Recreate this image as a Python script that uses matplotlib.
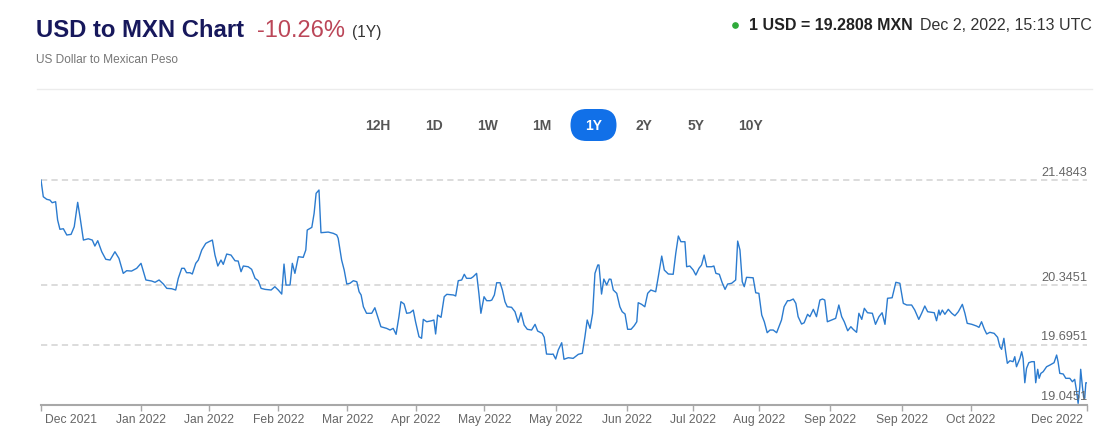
import matplotlib
matplotlib.use("Agg")
import matplotlib.pyplot as plt
from matplotlib.patches import FancyBboxPatch
from matplotlib import transforms

plt.rcParams['font.family'] = ['Liberation Sans', 'DejaVu Sans']
plt.rcParams['lines.scale_dashes'] = False

# --- data: day offset from 2 Dec 2021, USD/MXN rate ---
days_dec_jan = [0, 0.8, 2.0, 3.1, 3.9, 5.1, 5.8, 6.6, 7.8, 9.0, 10.5, 11.6, 12.8, 13.6,
                14.8, 16.5, 17.9, 18.8, 19.8, 21.2, 22.6, 24.1, 25.8, 27.2, 28.7, 29.9,
                31.6, 33.4, 34.9, 36.6, 38.6, 39.8, 41.2, 42.7, 43.9, 45.6, 47.0, 47.9,
                49.1, 50.0, 50.8, 52.0]
rate_dec_jan = [21.486, 21.305, 21.277, 21.269, 21.240, 21.251, 21.052, 20.951, 20.957,
                20.889, 20.896, 20.979, 21.244, 21.088, 20.834, 20.848, 20.834, 20.769,
                20.827, 20.707, 20.625, 20.617, 20.707, 20.635, 20.472, 20.501, 20.497,
                20.527, 20.581, 20.400, 20.389, 20.375, 20.400, 20.356, 20.309, 20.305,
                20.291, 20.418, 20.527, 20.527, 20.479, 20.479]

days_jan_mar = [52.8, 54.0, 54.9, 56.1, 57.5, 58.6, 59.8, 60.7, 61.7, 62.8, 63.6, 64.8,
                66.3, 67.7, 68.8, 69.8, 70.6, 72.3, 73.5, 74.7, 75.8, 76.8, 78.2, 80.3,
                81.6, 82.8, 84.0, 84.8, 85.5, 86.9, 87.7, 88.6, 89.8, 91.5, 92.4, 92.9,
                94.5, 95.3, 96.0, 97.0, 97.7, 100.2, 102.0, 103.2]
rate_jan_mar = [20.465, 20.581, 20.617, 20.726, 20.798, 20.816, 20.834, 20.671, 20.552,
                20.617, 20.570, 20.682, 20.671, 20.609, 20.606, 20.490, 20.552, 20.544,
                20.516, 20.418, 20.392, 20.309, 20.298, 20.291, 20.327, 20.291, 20.247,
                20.573, 20.345, 20.345, 20.581, 20.472, 20.653, 20.646, 20.726, 20.943,
                20.972, 21.124, 21.342, 21.378, 20.914, 20.921, 20.907, 20.889]

days_mar_may = [103.7, 104.9, 105.8, 106.7, 107.8, 109.0, 110.2, 111.0, 111.7, 112.5,
                113.6, 115.4, 116.5, 117.5, 118.6, 120.6, 121.8, 122.9, 123.9, 124.9,
                125.6, 126.7, 127.6, 128.8, 129.9, 130.7, 131.9, 132.8, 133.4, 134.6,
                136.3, 137.1, 137.7, 138.4, 139.6, 140.7, 141.6, 143.9, 144.7, 145.6,
                146.8, 147.7, 148.5, 150.0, 150.8, 152.0, 152.8, 153.5, 154.6, 155.5, 156.7]
rate_mar_may = [20.853, 20.617, 20.508, 20.356, 20.364, 20.392, 20.381, 20.272, 20.237,
                20.109, 20.038, 20.038, 20.098, 20.001, 19.892, 19.874, 19.856, 19.874,
                19.809, 20.001, 20.164, 20.139, 20.038, 20.044, 20.073, 19.946, 19.783,
                19.766, 19.972, 19.946, 19.957, 19.965, 19.813, 20.019, 19.994, 20.218,
                20.244, 20.237, 20.226, 20.392, 20.400, 20.462, 20.418, 20.418, 20.435,
                20.472, 20.255, 20.038, 20.218, 20.175, 20.175]

days_may_jun = [157.3, 158.2, 159.0, 160.2, 161.0, 161.9, 162.7, 164.2, 165.4, 166.5,
                167.5, 168.6, 169.7, 171.2, 172.4, 173.3, 174.9, 175.6, 176.4, 178.2,
                178.7, 179.6, 180.5, 181.7, 182.5, 184.0, 185.7, 187.5, 188.9, 189.8,
                190.6, 191.6, 192.5, 193.3, 194.3, 194.7, 195.6, 196.4, 197.4, 198.3,
                198.9, 199.7, 200.9, 202.0, 202.8, 203.8, 204.7, 205.9, 207.0, 207.9]
rate_may_jun = [20.182, 20.237, 20.370, 20.370, 20.291, 20.164, 20.109, 20.103, 20.055,
                19.940, 20.044, 19.910, 19.864, 19.856, 19.918, 19.845, 19.820, 19.777,
                19.595, 19.592, 19.595, 19.541, 19.639, 19.718, 19.538, 19.555, 19.548,
                19.592, 19.603, 19.783, 19.965, 19.874, 20.038, 20.472, 20.563, 20.563,
                20.247, 20.410, 20.345, 20.410, 20.407, 20.291, 20.255, 20.109, 20.055,
                20.030, 19.864, 19.864, 19.903, 19.946]

days_jun_aug = [208.4, 209.6, 210.7, 211.7, 212.8, 214.5, 215.4, 216.6, 217.5, 218.9,
                220.6, 221.5, 222.4, 223.3, 224.7, 225.3, 226.4, 227.6, 228.5, 229.6,
                230.5, 231.4, 232.3, 234.0, 234.8, 235.5, 236.7, 237.7, 238.7, 239.6,
                241.0, 242.4, 243.1, 243.9, 244.7, 245.4, 246.2, 248.5, 249.4, 250.5,
                251.5, 252.4, 253.4, 254.4, 255.5, 256.7, 258.4, 259.3, 260.5, 261.3]
rate_jun_aug = [20.153, 20.135, 20.109, 20.255, 20.291, 20.272, 20.435, 20.660, 20.508,
                20.465, 20.462, 20.690, 20.878, 20.816, 20.816, 20.544, 20.552, 20.508,
                20.454, 20.527, 20.563, 20.671, 20.544, 20.544, 20.552, 20.472, 20.462,
                20.370, 20.298, 20.356, 20.364, 20.400, 20.823, 20.726, 20.381, 20.327,
                20.429, 20.424, 20.261, 20.255, 20.019, 19.946, 19.827, 19.856, 19.856,
                19.827, 19.965, 20.109, 20.175, 20.175]

days_aug_oct = [262.5, 263.4, 264.2, 265.4, 266.3, 267.5, 268.3, 269.5, 270.6, 271.8,
                272.7, 273.5, 274.4, 275.9, 277.3, 278.4, 279.4, 280.3, 281.5, 282.6,
                283.4, 284.6, 285.4, 286.4, 287.3, 288.4, 290.1, 291.2, 292.4, 293.5,
                294.5, 295.4, 297.0, 298.3, 299.7, 300.9, 302.1, 303.8, 304.9, 306.3,
                307.3, 308.4, 309.4, 310.8, 311.7, 312.5, 313.3]
rate_aug_oct = [20.193, 20.146, 20.001, 19.921, 19.935, 20.027, 20.001, 20.081, 20.001,
                20.182, 20.193, 20.182, 19.946, 19.965, 19.983, 20.128, 20.001, 19.946,
                19.848, 19.892, 19.864, 19.831, 20.038, 19.972, 20.092, 20.044, 20.038,
                19.918, 20.001, 20.044, 19.918, 20.201, 20.207, 20.375, 20.364, 20.146,
                20.128, 20.128, 20.073, 19.972, 20.038, 20.117, 20.055, 20.048, 20.044,
                19.957, 20.073]

days_oct_dec = [313.7, 314.5, 315.4, 316.6, 317.8, 318.9, 320.1, 321.5, 322.4, 323.2,
                324.8, 326.5, 327.3, 328.2, 329.2, 330.0, 331.1, 332.6, 333.8, 334.6,
                335.2, 336.0, 336.6, 337.2, 338.1, 339.2, 339.8, 340.4, 341.6, 342.2,
                342.7, 343.3, 343.9, 344.7, 345.7, 346.6, 347.1, 347.8, 348.3, 348.9,
                349.7, 350.9, 352.1, 353.5, 354.4, 354.9, 355.5, 356.7, 357.6, 359.0,
                359.9, 360.7, 361.3, 361.9, 362.5, 362.8, 363.4, 363.8, 364.2, 364.6, 365.0]
rate_oct_dec = [20.019, 20.073, 20.027, 20.081, 20.038, 20.011, 20.055, 20.135, 20.038,
                19.929, 19.918, 19.899, 19.885, 19.946, 19.864, 19.813, 19.831, 19.820,
                19.777, 19.675, 19.646, 19.766, 19.620, 19.494, 19.522, 19.512, 19.566,
                19.457, 19.548, 19.620, 19.548, 19.283, 19.440, 19.501, 19.512, 19.512,
                19.283, 19.429, 19.331, 19.385, 19.403, 19.457, 19.476, 19.501, 19.584,
                19.512, 19.385, 19.378, 19.331, 19.331, 19.294, 19.320, 19.204, 19.059,
                19.240, 19.429, 19.240, 19.131, 19.114, 19.283, 19.281]

days = (days_dec_jan + days_jan_mar + days_mar_may + days_may_jun
        + days_jun_aug + days_aug_oct + days_oct_dec)
rates = (rate_dec_jan + rate_jan_mar + rate_mar_may + rate_may_jun
         + rate_jun_aug + rate_aug_oct + rate_oct_dec)

tick_days = [0, 34.9, 58.7, 82.8, 106.9, 130.7, 154.7, 179.6, 204.5, 227.5,
             250.5, 275.4, 300.4, 324.4, 365]
tick_labels = ["Dec 2021", "Jan 2022", "Jan 2022", "Feb 2022", "Mar 2022", "Apr 2022",
               "May 2022", "May 2022", "Jun 2022", "Jul 2022", "Aug 2022", "Sep 2022",
               "Sep 2022", "Oct 2022", "Dec 2022"]
levels = [21.4843, 20.3451, 19.6951, 19.0451]
periods = ["12H", "1D", "1W", "1M", "1Y", "2Y", "5Y", "10Y"]
active_period = "1Y"

W, H = 1105, 443
fig = plt.figure(figsize=(W / 100, H / 100), dpi=100)

# --- chart ---
ax = fig.add_axes([41 / W, (H - 405) / H, 1046 / W, 240 / H])
ax.plot(days, rates, color='#2b7bcf', lw=1.0, zorder=3)
ax.set_xlim(0, 365)
ax.set_ylim(19.041, 21.65)
ax.set_yticks(levels)
ax.yaxis.grid(True, color='#d9d9d9', lw=1.3, ls=(0, (4.5, 3)))
ax.tick_params(axis='y', left=False, labelleft=False)
for s in ['top', 'right', 'left']:
    ax.spines[s].set_visible(False)
ax.spines['bottom'].set_color('#a8a8a8')
ax.spines['bottom'].set_linewidth(1.5)
ax.set_xticks(tick_days, tick_labels)
ax.tick_params(axis='x', length=4.5, width=1, color='#a8a8a8',
               labelcolor='#666666', labelsize=8.7, pad=2)
xl = ax.get_xticklabels()
xl[0].set_ha('left')
xl[0].set_transform(xl[0].get_transform()
                    + transforms.ScaledTranslation(4 / 100, 0, fig.dpi_scale_trans))
xl[-1].set_ha('right')
xl[-1].set_transform(xl[-1].get_transform()
                     + transforms.ScaledTranslation(-4 / 100, 0, fig.dpi_scale_trans))

off = transforms.offset_copy(ax.get_yaxis_transform(), fig=fig, x=0, y=7.5, units='dots')
for v in levels:
    ax.text(1.0, v, f"{v:.4f}", transform=off, ha='right', va='center',
            fontsize=9.2, color='#666666')

# --- header ---
hdr = fig.add_axes([0, 0, 1, 1])
hdr.set_xlim(0, W)
hdr.set_ylim(H, 0)
hdr.axis('off')

hdr.text(36.5, 36.5, "USD to MXN Chart", fontsize=17.2, fontweight='bold',
         color='#17185c', va='baseline')
hdr.text(257.5, 36.5, "-10.26%", fontsize=17, color='#bb4658', va='baseline')
hdr.text(352, 36.5, "(1Y)", fontsize=11.2, color='#333333', va='baseline')
hdr.text(36.5, 60, "US Dollar to Mexican Peso", fontsize=8.6, color='#777777', va='center')
hdr.plot([36.5, 1091.5], [89, 89], color='#ececec', lw=1)

hdr.plot(735, 25, 'o', ms=3.8, color='#2eaa3a')
hdr.text(749, 25, "1 USD = 19.2808 MXN", fontsize=11.5, fontweight='bold',
         color='#222222', va='center')
hdr.text(1091.5, 25, "Dec 2, 2022, 15:13 UTC", fontsize=11.5, color='#333333',
         ha='right', va='center')

button_x = [378, 433.5, 487.5, 542, 593.5, 644, 696, 750.5]
for bx, p in zip(button_x, periods):
    if p == active_period:
        hdr.add_patch(FancyBboxPatch((bx - 23, 109), 46, 32,
                                     boxstyle="round,pad=0,rounding_size=16",
                                     fc='#1170e8', ec='none'))
        hdr.text(bx, 125.5, p, fontsize=10, fontweight='bold', color='white',
                 ha='center', va='center')
    else:
        hdr.text(bx, 125.5, p, fontsize=10, fontweight='bold', color='#555555',
                 ha='center', va='center')

fig.savefig('out.png', dpi=100, facecolor='white')
